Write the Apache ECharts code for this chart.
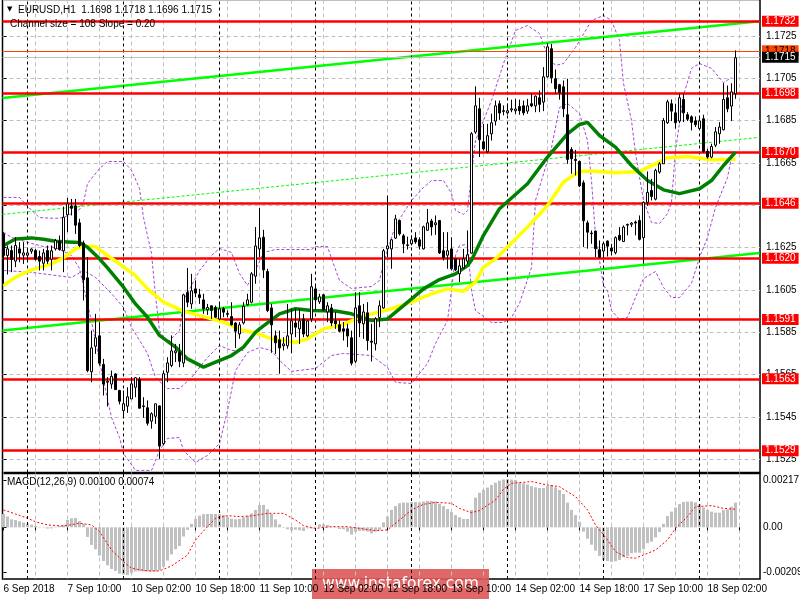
<!DOCTYPE html>
<html>
	<head>
		<meta charset="UTF-8">
		<title>EURUSD,H1</title>
		<style>
			html, body { margin: 0; padding: 0; background: #fff; }
			.box { width: 800px; height: 600px; }
		</style>
	</head>
	<body>
		<div class="box"></div>
	</body>
</html>
<script type="text/javascript" src="https://cdn.jsdelivr.net/npm/echarts@6/dist/echarts.min.js"></script>
<script>
	// candles, one per hour, index 0 = 6 Sep 2018 02:00
	var opens = [
		1.16315,1.16213,1.16236,1.16186,1.16244,1.16214,1.16214,1.16233,1.16236,1.16208,
		1.16176,1.16236,1.16195,1.16244,1.16280,1.16235,1.16405,1.16447,1.16447,1.16367,
		1.16272,1.16107,1.15663,1.15784,1.15833,1.15698,1.15617,1.15605,1.15653,1.15575,
		1.15480,1.15501,1.15535,1.15590,1.15627,1.15502,1.15493,1.15430,1.15453,1.15502,
		1.15323,1.15661,1.15693,1.15753,1.15754,1.15705,1.16038,1.15984,1.16055,1.16027,
		1.16003,1.15956,1.15975,1.15967,1.15912,1.15961,1.15939,1.15924,1.15894,1.15842,
		1.15894,1.15980,1.15992,1.16115,1.16244,1.16299,1.16137,1.15965,1.15833,1.15814,
		1.15786,1.15786,1.15842,1.15894,1.15866,1.15913,1.15833,1.15913,1.16055,1.15994,
		1.16027,1.15946,1.15965,1.15904,1.15885,1.15866,1.15866,1.15824,1.15713,1.15975,
		1.15890,1.15942,1.15808,1.15795,1.15920,1.15965,1.16244,1.16244,1.16295,1.16378,
		1.16306,1.16263,1.16268,1.16296,1.16287,1.16244,1.16332,1.16376,1.16358,1.16378,
		1.16235,1.16214,1.16244,1.16197,1.16126,1.16154,1.16186,1.16224,1.16796,1.16906,
		1.16750,1.16703,1.16788,1.16848,1.16930,1.16897,1.16887,1.16901,1.16897,1.16917,
		1.16920,1.16895,1.16930,1.16920,1.16958,1.16938,1.17057,1.17190,1.17048,1.17020,
		1.17010,1.16878,1.16714,1.16667,1.16657,1.16556,1.16367,1.16319,1.16328,1.16240,
		1.16234,1.16281,1.16248,1.16226,1.16308,1.16279,1.16356,1.16360,1.16371,1.16378,
		1.16297,1.16464,1.16520,1.16479,1.16607,1.16646,1.16840,1.16930,1.16887,1.16848,
		1.16950,1.16878,1.16868,1.16849,1.16813,1.16859,1.16705,1.16678,1.16734,1.16788,
		1.16807,1.16958,1.16919,1.16977
	];
	var closes = [
		1.16213,1.16244,1.16194,1.16260,1.16224,1.16225,1.16225,1.16243,1.16195,1.16186,
		1.16225,1.16186,1.16235,1.16283,1.16241,1.16394,1.16457,1.16436,1.16356,1.16260,
		1.16098,1.15669,1.15776,1.15824,1.15704,1.15605,1.15614,1.15642,1.15579,1.15524,
		1.15512,1.15545,1.15606,1.15635,1.15491,1.15499,1.15420,1.15465,1.15512,1.15312,
		1.15654,1.15705,1.15762,1.15762,1.15713,1.16027,1.15992,1.16046,1.16035,1.16014,
		1.15961,1.15967,1.15953,1.15921,1.15961,1.15945,1.15935,1.15885,1.15855,1.15885,
		1.15973,1.16003,1.16126,1.16258,1.16296,1.16145,1.15953,1.15885,1.15800,1.15776,
		1.15795,1.15833,1.15904,1.15874,1.15904,1.15842,1.15904,1.16065,1.16003,1.16017,
		1.15956,1.15975,1.15894,1.15890,1.15855,1.15855,1.15832,1.15704,1.15965,1.15894,
		1.15946,1.15811,1.15803,1.15913,1.15975,1.16235,1.16258,1.16287,1.16386,1.16315,
		1.16268,1.16260,1.16287,1.16277,1.16257,1.16348,1.16367,1.16348,1.16367,1.16225,
		1.16202,1.16235,1.16150,1.16145,1.16164,1.16197,1.16216,1.16788,1.16920,1.16760,
		1.16717,1.16779,1.16840,1.16920,1.16886,1.16894,1.16897,1.16906,1.16905,1.16897,
		1.16887,1.16920,1.16920,1.16966,1.16927,1.17057,1.17199,1.17053,1.17001,1.16983,
		1.16906,1.16667,1.16670,1.16662,1.16542,1.16377,1.16323,1.16316,1.16245,1.16205,
		1.16268,1.16257,1.16234,1.16297,1.16287,1.16347,1.16360,1.16366,1.16366,1.16289,
		1.16464,1.16511,1.16492,1.16615,1.16646,1.16851,1.16939,1.16895,1.16840,1.16958,
		1.16887,1.16857,1.16842,1.16831,1.16849,1.16705,1.16678,1.16728,1.16797,1.16820,
		1.16950,1.16906,1.16986,1.17147
	];
	var lows = [
		1.16079,1.16123,1.16134,1.16158,1.16181,1.16173,1.16189,1.16221,1.16189,1.16142,
		1.16142,1.16173,1.16142,1.16236,1.16236,1.16134,1.16323,1.16402,1.16315,1.16252,
		1.16000,1.15661,1.15614,1.15748,1.15693,1.15551,1.15499,1.15583,1.15578,1.15509,
		1.15449,1.15469,1.15535,1.15543,1.15491,1.15446,1.15409,1.15394,1.15417,1.15252,
		1.15315,1.15614,1.15685,1.15709,1.15685,1.15685,1.15969,1.15961,1.16016,1.15984,
		1.15937,1.15932,1.15913,1.15918,1.15906,1.15921,1.15921,1.15882,1.15775,1.15819,
		1.15887,1.15976,1.15987,1.16079,1.16205,1.16106,1.15945,1.15753,1.15748,1.15654,
		1.15764,1.15772,1.15751,1.15827,1.15795,1.15827,1.15827,1.15898,1.15956,1.15984,
		1.15950,1.15898,1.15879,1.15866,1.15850,1.15811,1.15780,1.15693,1.15704,1.15827,
		1.15819,1.15764,1.15712,1.15764,1.15874,1.15961,1.16205,1.16150,1.16291,1.16307,
		1.16224,1.16241,1.16260,1.16268,1.16241,1.16241,1.16331,1.16307,1.16310,1.16220,
		1.16189,1.16150,1.16142,1.16139,1.16087,1.16150,1.16173,1.16221,1.16788,1.16678,
		1.16709,1.16697,1.16756,1.16827,1.16854,1.16875,1.16878,1.16890,1.16882,1.16878,
		1.16875,1.16882,1.16914,1.16890,1.16890,1.16895,1.17053,1.17027,1.16977,1.16949,
		1.16867,1.16646,1.16599,1.16591,1.16536,1.16253,1.16245,1.16268,1.16205,1.16202,
		1.16202,1.16208,1.16213,1.16218,1.16281,1.16276,1.16308,1.16347,1.16308,1.16284,
		1.16174,1.16448,1.16473,1.16473,1.16599,1.16646,1.16835,1.16848,1.16812,1.16838,
		1.16843,1.16848,1.16804,1.16820,1.16807,1.16697,1.16670,1.16672,1.16725,1.16741,
		1.16804,1.16890,1.16848,1.16953
	];
	var highs = [
		1.16323,1.16260,1.16260,1.16299,1.16276,1.16276,1.16244,1.16247,1.16244,1.16236,
		1.16244,1.16260,1.16260,1.16291,1.16307,1.16444,1.16485,1.16480,1.16480,1.16386,
		1.16283,1.16205,1.15858,1.15937,1.15898,1.15724,1.15638,1.15669,1.15657,1.15578,
		1.15575,1.15590,1.15638,1.15638,1.15638,1.15543,1.15528,1.15472,1.15512,1.15504,
		1.15669,1.15732,1.15835,1.15795,1.15795,1.16032,1.16154,1.16126,1.16095,1.16055,
		1.16032,1.15984,1.15976,1.15976,1.15987,1.15969,1.15953,1.15992,1.15898,1.15898,
		1.15992,1.16032,1.16134,1.16347,1.16438,1.16334,1.16150,1.15984,1.15858,1.15858,
		1.15827,1.15984,1.15961,1.15961,1.15961,1.15937,1.15906,1.16126,1.16079,1.16032,
		1.16032,1.15992,1.15984,1.15945,1.15906,1.15898,1.15890,1.15858,1.16039,1.16039,
		1.15984,1.15992,1.15890,1.15921,1.16000,1.16244,1.16496,1.16291,1.16405,1.16381,
		1.16315,1.16302,1.16307,1.16323,1.16299,1.16354,1.16433,1.16386,1.16402,1.16381,
		1.16323,1.16323,1.16299,1.16197,1.16197,1.16244,1.16331,1.16796,1.17012,1.16958,
		1.16835,1.16835,1.16883,1.16945,1.16945,1.16922,1.16930,1.16949,1.16953,1.16949,
		1.16945,1.16953,1.16977,1.16969,1.16993,1.17103,1.17216,1.17213,1.17092,1.17024,
		1.17040,1.17048,1.16725,1.16712,1.16662,1.16568,1.16378,1.16331,1.16331,1.16284,
		1.16276,1.16284,1.16268,1.16303,1.16347,1.16355,1.16363,1.16371,1.16378,1.16402,
		1.16468,1.16610,1.16575,1.16623,1.16654,1.16862,1.16949,1.16950,1.16930,1.16977,
		1.16977,1.16890,1.16875,1.16870,1.16867,1.16878,1.16717,1.16741,1.16820,1.16843,
		1.17027,1.17016,1.17027,1.17182
	];

	// moving averages, [bar index, price]
	var maSlow = [
		[0,1.16260],[3,1.16291],[7,1.16296],[10,1.16290],[13,1.16280],[16,1.16277],[19,1.16274],[21,1.16252],
		[24,1.16197],[26,1.16154],[30,1.16063],[33,1.15984],[36,1.15921],[39,1.15835],[43,1.15780],[46,1.15724],
		[50,1.15685],[53,1.15709],[57,1.15740],[60,1.15780],[63,1.15850],[64,1.15866],[69,1.15937],[73,1.15961],
		[77,1.15953],[83,1.15950],[87,1.15937],[92,1.15905],[96,1.15913],[100,1.15976],[105,1.16055],[109,1.16099],
		[113,1.16126],[116,1.16165],[117,1.16190],[120,1.16308],[124,1.16434],[131,1.16552],[136,1.16678],[141,1.16788],
		[144,1.16832],[146,1.16842],[149,1.16780],[153,1.16725],[157,1.16638],[161,1.16567],[165,1.16523],[169,1.16505],
		[174,1.16528],[177,1.16567],[180,1.16638],[183,1.16701]
	];
	var maFast = [
		[0,1.16071],[3,1.16110],[7,1.16145],[12,1.16173],[15,1.16202],[18,1.16244],[20,1.16255],[23,1.16255],
		[26,1.16213],[29,1.16173],[33,1.16118],[36,1.16055],[40,1.15992],[45,1.15950],[50,1.15924],[55,1.15898],
		[60,1.15858],[63,1.15847],[67,1.15819],[73,1.15803],[76,1.15819],[80,1.15866],[85,1.15887],[89,1.15921],
		[92,1.15937],[97,1.15961],[102,1.15992],[107,1.16032],[111,1.16055],[115,1.16044],[118,1.16087],[120,1.16158],
		[123,1.16197],[126,1.16253],[131,1.16347],[136,1.16449],[140,1.16560],[144,1.16610],[147,1.16612],[153,1.16604],
		[159,1.16610],[163,1.16646],[166,1.16675],[171,1.16681],[177,1.16665],[183,1.16668]
	];

	// purple bands, [bar index, price]
	var bandUpper = [
		[0,1.16487],[4,1.16487],[7,1.16426],[9,1.16392],[13,1.16388],[15,1.16392],[19,1.16430],[20,1.16463],[21,1.16553],
		[24,1.16624],[26,1.16657],[30,1.16657],[32,1.16615],[34,1.16530],[35,1.16392],[37,1.16222],[38,1.16024],[39,1.15858],
		[41,1.15802],[44,1.15858],[45,1.16000],[49,1.16142],[52,1.16213],[54,1.16246],[57,1.16227],[59,1.16128],[61,1.16071],
		[63,1.16142],[65,1.16227],[68,1.16241],[72,1.16241],[77,1.16241],[78,1.16255],[81,1.16255],[82,1.16199],[84,1.16095],
		[87,1.16057],[92,1.16066],[94,1.16095],[95,1.16180],[98,1.16355],[102,1.16473],[105,1.16534],[107,1.16567],[110,1.16567],
		[112,1.16506],[113,1.16425],[115,1.16407],[116,1.16425],[117,1.16600],[118,1.16756],[122,1.16945],[125,1.17120],
		[128,1.17276],[131,1.17300],[134,1.17262],[136,1.17158],[138,1.17111],[140,1.17120],[143,1.17196],[147,1.17323],
		[150,1.17347],[152,1.17323],[154,1.17229],[155,1.17026],[157,1.16851],[158,1.16695],[160,1.16473],[162,1.16369],
		[164,1.16364],[166,1.16411],[167,1.16463],[168,1.16709],[170,1.16969],[172,1.17097],[174,1.17120],[177,1.17097],
		[180,1.17030],[182,1.17054]
	];
	var bandLower = [
		[0,1.16322],[2,1.16298],[7,1.16270],[10,1.16255],[13,1.16251],[17,1.16213],[19,1.16151],[21,1.15986],[23,1.15811],
		[25,1.15622],[27,1.15447],[29,1.15353],[30,1.15277],[33,1.15197],[37,1.15197],[39,1.15291],[41,1.15348],[44,1.15353],
		[45,1.15291],[48,1.15235],[51,1.15268],[54,1.15324],[56,1.15480],[58,1.15669],[61,1.15754],[64,1.15778],[67,1.15764],
		[69,1.15717],[72,1.15665],[78,1.15679],[82,1.15740],[85,1.15750],[92,1.15740],[96,1.15684],[98,1.15613],[102,1.15608],
		[106,1.15702],[108,1.15797],[111,1.15906],[112,1.16047],[113,1.16213],[114,1.16260],[116,1.16265],[117,1.16047],
		[118,1.15953],[122,1.15896],[125,1.15896],[127,1.15920],[129,1.15986],[132,1.16156],[133,1.16473],[137,1.16723],
		[139,1.16912],[141,1.16931],[144,1.16884],[146,1.16756],[147,1.16567],[148,1.16307],[150,1.16071],[151,1.16047],
		[152,1.15953],[154,1.15910],[156,1.15920],[158,1.16014],[160,1.16104],[163,1.16137],[165,1.16062],[167,1.16014],
		[169,1.16014],[172,1.16081],[174,1.16203],[176,1.16298],[178,1.16440],[181,1.16581],[182,1.16676]
	];
	var bandInner = [
		[0,1.16142],[7,1.16133],[17,1.16109],[20,1.16142],[23,1.16109],[27,1.16033],[30,1.15967],[32,1.15873],[36,1.15750],
		[38,1.15636],[41,1.15584],[44,1.15584],[47,1.15636],[51,1.15731],[54,1.15787],[57,1.15764],[60,1.15764]
	];

	// regression channel, [bar index, price]
	var channelUpper = [[-0.25,1.16957],[189,1.1732]];
	var channelMiddle = [[-0.25,1.16407],[189,1.16771]];
	var channelLower = [[-0.25,1.15858],[189,1.16224]];

	var levels = [1.1732,1.1698,1.167,1.1646,1.162,1.1591,1.1563,1.1529];
	var dayStarts = [6,30,54,78,102,126,150,174];
	var priceTicks = [1.1525,1.1545,1.1565,1.1585,1.1605,1.1625,1.1645,1.1665,1.1685,1.1705,1.1725];
	var macdTicks = [-0.00209,0,0.00217];
	var gridBars = [0,8,16,24,32,40,48,56,64,72,80,88,96,104,112,120,128,136,144,152,160,168,176,184];
	var labelBars = [0,16,32,48,64,80,96,112,128,144,160,176];
	var timeLabels = ['6 Sep 2018','7 Sep 10:00','10 Sep 02:00','10 Sep 18:00','11 Sep 10:00','12 Sep 02:00','12 Sep 18:00','13 Sep 10:00','14 Sep 02:00','14 Sep 18:00','17 Sep 10:00','18 Sep 02:00'];

	var macdBars = [
		0.00062,0.00050,0.00037,0.00034,0.00028,0.00022,0.00017,0.00012,0.00006,0.00002,
		0.00002,-0.00006,-0.00005,0.00003,0.00006,0.00011,0.00034,0.00042,0.00043,0.00029,
		0.00016,-0.00045,-0.00082,-0.00102,-0.00132,-0.00157,-0.00177,-0.00194,-0.00203,-0.00216,
		-0.00220,-0.00222,-0.00214,-0.00206,-0.00205,-0.00206,-0.00206,-0.00206,-0.00206,-0.00199,
		-0.00183,-0.00155,-0.00126,-0.00102,-0.00087,-0.00043,-0.00012,0.00016,0.00039,0.00054,
		0.00061,0.00062,0.00062,0.00062,0.00062,0.00057,0.00047,0.00040,0.00037,0.00039,
		0.00047,0.00054,0.00065,0.00081,0.00104,0.00104,0.00084,0.00062,0.00037,0.00014,
		-0.00002,-0.00009,-0.00014,-0.00011,-0.00014,-0.00017,-0.00005,-0.00006,0.00003,0.00014,
		0.00014,0.00011,0.00003,-0.00002,-0.00008,-0.00009,-0.00020,-0.00034,-0.00022,-0.00017,
		-0.00017,-0.00020,-0.00028,-0.00020,-0.00012,0.00023,0.00050,0.00081,0.00099,0.00112,
		0.00115,0.00115,0.00118,0.00118,0.00115,0.00120,0.00123,0.00123,0.00120,0.00109,
		0.00099,0.00085,0.00071,0.00057,0.00047,0.00039,0.00039,0.00081,0.00138,0.00161,
		0.00174,0.00185,0.00197,0.00208,0.00217,0.00223,0.00225,0.00222,0.00220,0.00208,
		0.00205,0.00200,0.00192,0.00186,0.00183,0.00183,0.00192,0.00197,0.00186,0.00174,
		0.00155,0.00115,0.00081,0.00057,0.00026,-0.00020,-0.00053,-0.00081,-0.00109,-0.00133,
		-0.00152,-0.00157,-0.00161,-0.00158,-0.00152,-0.00140,-0.00133,-0.00121,-0.00118,-0.00118,
		-0.00102,-0.00074,-0.00067,-0.00047,-0.00022,0.00016,0.00053,0.00073,0.00092,0.00109,
		0.00118,0.00120,0.00120,0.00116,0.00107,0.00093,0.00081,0.00073,0.00068,0.00068,
		0.00081,0.00084,0.00096,0.00115
	];
	var macdSignal = [
		[0,0.00081],[3,0.00062],[6,0.00042],[8,0.00026],[11,0.00011],[15,0.00006],[19,0.00019],[22,0.00011],[24,-0.00020],
		[27,-0.00106],[30,-0.00160],[32,-0.00191],[36,-0.00203],[39,-0.00203],[42,-0.00180],[46,-0.00129],[48,-0.00059],
		[51,0.00003],[53,0.00042],[56,0.00054],[59,0.00050],[62,0.00053],[66,0.00065],[70,0.00065],[73,0.00034],[75,0.00008],
		[78,-0.00005],[82,0.00003],[86,0.00003],[89,-0.00005],[93,-0.00016],[96,-0.00012],[99,0.00034],[102,0.00081],
		[105,0.00107],[108,0.00116],[112,0.00112],[114,0.00088],[117,0.00068],[119,0.00078],[123,0.00127],[125,0.00177],
		[127,0.00205],[132,0.00213],[136,0.00197],[139,0.00189],[143,0.00143],[146,0.00081],[148,0.00011],[151,-0.00059],
		[153,-0.00113],[156,-0.00141],[158,-0.00144],[163,-0.00106],[166,-0.00059],[168,-0.00005],[171,0.00050],[173,0.00096],
		[177,0.00101],[180,0.00088],[183,0.00084]
	];

	var candleData = [];
	for (var i = 0; i < opens.length; i++) {
		candleData.push([i, opens[i], closes[i], lows[i], highs[i]]);
	}
	var macdData = [];
	for (var j = 0; j < macdBars.length; j++) {
		macdData.push([j, macdBars[j]]);
	}

	var fontName = 'Liberation Sans';
	var purple = '#a845d8';

	function lineSeries(data, color, width, type, z, axis) {
		return {
			type: 'line',
			data: data,
			xAxisIndex: axis || 0,
			yAxisIndex: axis || 0,
			showSymbol: false,
			silent: true,
			z: z,
			lineStyle: {color: color, width: width, type: type}
		};
	}

	function dayLines() {
		return dayStarts.map(function (d) { return {xAxis: d}; });
	}

	function levelLabel(color, bg) {
		return {
			show: true,
			position: 'end',
			distance: 2,
			color: color,
			backgroundColor: bg,
			padding: [0, 3, 0, 3],
			lineHeight: 11,
			fontFamily: fontName,
			fontSize: 10,
			formatter: function (p) { return p.value.toFixed(4); }
		};
	}

	var myChart = echarts.init(document.querySelector('.box'), null, {renderer: 'canvas'});
	var option = {
		animation: false,
		backgroundColor: '#fff',
		grid: [
			{left: 2.5, top: -0.5, width: 757.5, height: 473, show: true, outerBoundsMode: 'none', borderColor: '#000', borderWidth: 1.5, backgroundColor: 'transparent'},
			{left: 2.5, top: 473.5, width: 757.5, height: 105.5, show: true, outerBoundsMode: 'none', borderColor: '#000', borderWidth: 1.5, backgroundColor: 'transparent'}
		],
		xAxis: [
			{
				type: 'value', gridIndex: 0, min: -0.25, max: 189.125,
				axisLine: {show: false},
				axisTick: {show: false, customValues: gridBars},
				axisLabel: {show: false, customValues: gridBars},
				splitLine: {show: true, lineStyle: {color: '#c0c0c0', type: [4, 3], width: 1}}
			},
			{
				type: 'value', gridIndex: 1, min: -0.25, max: 189.125,
				axisLine: {show: false},
				axisTick: {show: true, customValues: gridBars, length: 3, lineStyle: {color: '#000'}},
				axisLabel: {
					show: true,
					customValues: labelBars,
					align: 'left',
					margin: 5,
					showMaxLabel: true,
					hideOverlap: false,
					color: '#000',
					fontFamily: fontName,
					fontSize: 10,
					formatter: function (v) { return timeLabels[labelBars.indexOf(v)]; }
				},
				splitLine: {show: true, lineStyle: {color: '#c0c0c0', type: [4, 3], width: 1}}
			}
		],
		yAxis: [
			{
				type: 'value', gridIndex: 0, position: 'right', min: 1.151872, max: 1.174226,
				axisLine: {show: false},
				axisTick: {show: true, customValues: priceTicks, length: 3, lineStyle: {color: '#000'}},
				axisLabel: {
					show: true,
					customValues: priceTicks,
					margin: 6,
					color: '#000',
					fontFamily: fontName,
					fontSize: 10,
					formatter: function (v) { return v.toFixed(4); }
				},
				splitLine: {show: true, lineStyle: {color: '#c0c0c0', type: [4, 3], width: 1}}
			},
			{
				type: 'value', gridIndex: 1, position: 'right', min: -0.002407, max: 0.002505,
				axisLine: {show: false},
				axisTick: {show: true, customValues: macdTicks, length: 3, lineStyle: {color: '#000'}},
				axisLabel: {
					show: true,
					customValues: macdTicks,
					margin: 3,
					color: '#000',
					fontFamily: fontName,
					fontSize: 10,
					formatter: function (v) { return v === 0 ? '0.00' : v.toFixed(5); }
				},
				splitLine: {show: false}
			}
		],
		series: [
			{
				type: 'line', data: [], silent: true, z: 1,
				markLine: {
					silent: true, symbol: 'none', animation: false,
					lineStyle: {color: '#000', type: [3, 3], width: 1},
					label: {show: false},
					data: dayLines()
				}
			},
			{
				type: 'line', data: [], xAxisIndex: 1, yAxisIndex: 1, silent: true, z: 1,
				markLine: {
					silent: true, symbol: 'none', animation: false,
					lineStyle: {color: '#000', type: [3, 3], width: 1},
					label: {show: false},
					data: dayLines()
				}
			},
			{
				type: 'line', data: [], silent: true, z: 2,
				markLine: {
					silent: true, symbol: 'none', animation: false, precision: 5,
					lineStyle: {color: '#ff4500', type: 'solid', width: 1},
					label: levelLabel('#000', '#ff4500'),
					data: [{yAxis: 1.1718}]
				}
			},
			{
				type: 'line', data: [], silent: true, z: 2,
				markLine: {
					silent: true, symbol: 'none', animation: false, precision: 5,
					lineStyle: {color: '#c0c0c0', type: 'solid', width: 1},
					label: levelLabel('#fff', '#000'),
					data: [{yAxis: 1.1715}]
				}
			},
			{
				type: 'line', data: [], silent: true, z: 3,
				markLine: {
					silent: true, symbol: 'none', animation: false, precision: 5,
					lineStyle: {color: '#ff0000', type: 'solid', width: 2.5},
					label: levelLabel('#fff', '#ff0000'),
					data: levels.map(function (v) { return {yAxis: v}; })
				}
			},
			lineSeries(bandUpper, purple, 1, [3, 2], 3),
			lineSeries(bandLower, purple, 1, [3, 2], 3),
			lineSeries(bandInner, purple, 1, [3, 2], 3),
			lineSeries(channelMiddle, '#00ff00', 1, [3, 2], 3),
			lineSeries(channelUpper, '#00ff00', 2.5, 'solid', 4),
			lineSeries(channelLower, '#00ff00', 2.5, 'solid', 4),
			lineSeries(maFast, '#ffff00', 3.5, 'solid', 5),
			lineSeries(maSlow, '#008000', 3.5, 'solid', 6),
			{
				type: 'candlestick',
				data: candleData,
				encode: {x: 0, y: [1, 2, 3, 4]},
				barWidth: 3,
				silent: true,
				z: 7,
				itemStyle: {color: '#fff', color0: '#000', borderColor: '#000', borderColor0: '#000', borderWidth: 1}
			},
			{
				type: 'bar',
				data: macdData,
				xAxisIndex: 1,
				yAxisIndex: 1,
				barWidth: 3,
				silent: true,
				z: 3,
				itemStyle: {color: '#c0c0c0'}
			},
			lineSeries(macdSignal, '#ff0000', 1, [2, 2], 4, 1)
		],
		graphic: [
			{type: 'text', left: 18, top: 5, z: 20, style: {text: 'EURUSD,H1  1.1698 1.1718 1.1696 1.1715', fill: '#000', font: '10px "Liberation Sans"'}},
			{type: 'text', left: 7, top: 6, z: 20, style: {text: '▼', fill: '#000', font: '7px "DejaVu Sans"'}},
			{type: 'text', left: 10, top: 19, z: 20, style: {text: 'Channel size = 108 Slope = 0.20', fill: '#000', font: '10px "Liberation Sans"'}},
			{type: 'text', left: 7, top: 477, z: 20, style: {text: 'MACD(12,26,9) 0.00100 0.00074', fill: '#000', font: '10px "Liberation Sans"'}},
			{
				type: 'group', left: 312, top: 569, z: 30,
				children: [
					{type: 'rect', shape: {x: 0, y: 0, width: 177, height: 30}, style: {fill: 'rgba(222,88,88,0.9)'}},
					{type: 'text', x: 88.5, y: 15, style: {text: 'www.instaforex.com', fill: '#fff', font: '15.5px "DejaVu Sans"', align: 'center', verticalAlign: 'middle'}}
				]
			}
		]
	};
	myChart.setOption(option);
</script>
